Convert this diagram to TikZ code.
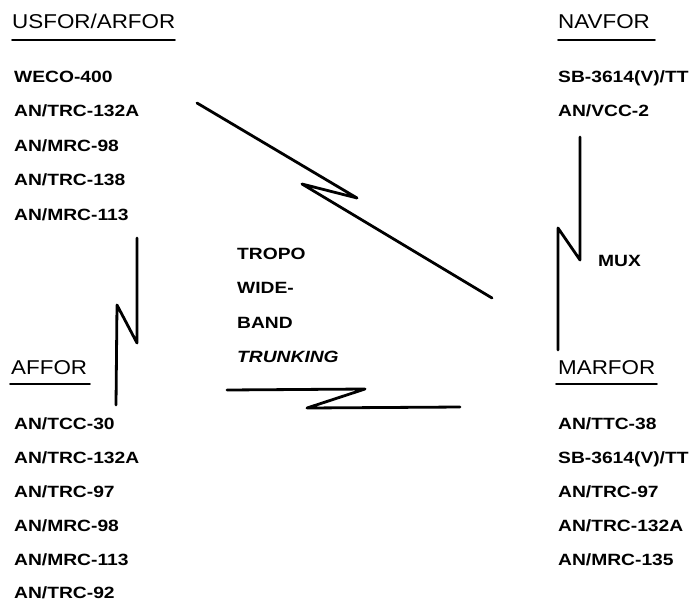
\documentclass[tikz,border=0pt]{standalone}
\usepackage{fontspec}
\newfontfamily\lblfont{Liberation Sans}[FakeStretch=1.18]
\newfontfamily\hdrfont{Liberation Sans}[FakeStretch=1.12]
\begin{document}
\begin{tikzpicture}[x=1pt,y=-1pt,
  item/.style={anchor=base west, inner sep=0pt, font=\lblfont\bfseries\fontsize{16.3}{18}\selectfont},
  hdr/.style={anchor=base west, inner sep=0pt, font=\hdrfont\fontsize{20}{24}\selectfont},
  bolt/.style={line width=2.8pt, line cap=round, line join=round},
  uline/.style={line width=1.8pt, line cap=round}]
\useasboundingbox (0,0) rectangle (695,603);

% USFOR/ARFOR
\node[hdr] (us) at (12,28) {USFOR/ARFOR};
\draw[uline] (12,40) -- (175,40);
\node[item] (us1) at (14,82) {WECO-400};
\node[item] (us2) at (14,116.5) {AN/TRC-132A};
\node[item] (us3) at (14,151) {AN/MRC-98};
\node[item] (us4) at (14,185.5) {AN/TRC-138};
\node[item] (us5) at (14,220) {AN/MRC-113};

% NAVFOR
\node[hdr] (nav) at (558,28) {NAVFOR};
\draw[uline] (558,40) -- (655,40);
\node[item] (nav1) at (558,82) {SB-3614(V)/TT};
\node[item] (nav2) at (558,116.5) {AN/VCC-2};

% AFFOR
\node[hdr] (af) at (11,374) {AFFOR};
\draw[uline] (10,384) -- (90,384);
\node[item] (af1) at (14,429) {AN/TCC-30};
\node[item] (af2) at (14,463) {AN/TRC-132A};
\node[item] (af3) at (14,497) {AN/TRC-97};
\node[item] (af4) at (14,531) {AN/MRC-98};
\node[item] (af5) at (14,565) {AN/MRC-113};
\node[item] (af6) at (14,598) {AN/TRC-92};

% MARFOR
\node[hdr] (mar) at (558,374) {MARFOR};
\draw[uline] (556,384) -- (657,384);
\node[item] (mar1) at (558,429) {AN/TTC-38};
\node[item] (mar2) at (558,463) {SB-3614(V)/TT};
\node[item] (mar3) at (558,497) {AN/TRC-97};
\node[item] (mar4) at (558,531) {AN/TRC-132A};
\node[item] (mar5) at (558,565) {AN/MRC-135};

% centre labels
\node[item] (t1) at (237,259) {TROPO};
\node[item] (t2) at (237,293.5) {WIDE-};
\node[item] (t3) at (237,328) {BAND};
\node[item, font=\lblfont\bfseries\itshape\fontsize{16.3}{18}\selectfont] (t4) at (237,362.5) {TRUNKING};
\node[item] (mux) at (598,266) {MUX};

% bolt end points
\coordinate (dA) at (197,103);
\coordinate (dB) at (492,298);
\coordinate (lA) at (137,238);
\coordinate (lB) at (116,405);
\coordinate (rA) at (580,137);
\coordinate (rB) at (558,350);
\coordinate (hA) at (227,390);
\coordinate (hB) at (460,407);

% lightning links
\draw[bolt] (dA) -- (357,198) -- (302,184) -- (dB);
\draw[bolt] (lA) -- (137,343) -- (117,305) -- (lB);
\draw[bolt] (rA) -- (580,260) -- (558,228) -- (rB);
\draw[bolt] (hA) -- (365,389) -- (307,408) -- (hB);
\end{tikzpicture}
\end{document}
